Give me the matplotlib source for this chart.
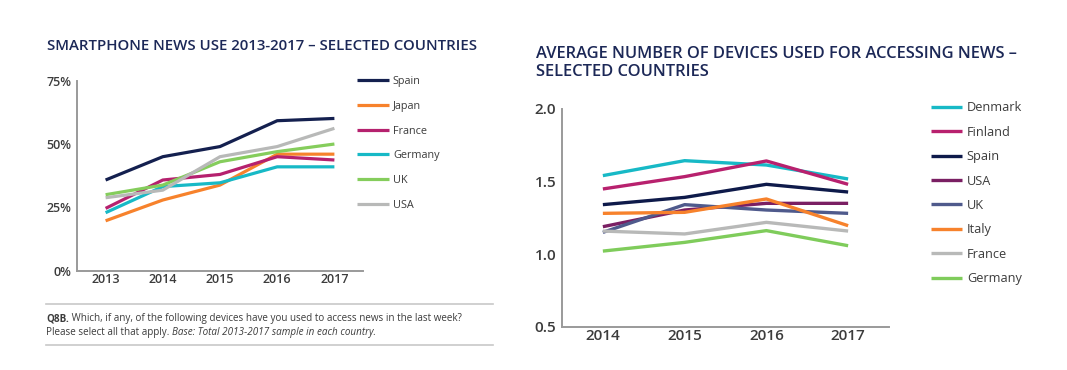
import matplotlib
matplotlib.use("Agg")
import matplotlib.pyplot as plt
from matplotlib.lines import Line2D

plt.rcParams['font.family'] = ['Open Sans', 'DejaVu Sans']

# ---- Left chart data ----
years_left = [2013, 2014, 2015, 2016, 2017]
left_series = ["Spain", "Japan", "France", "Germany", "UK", "USA"]
spain_l = [35.8, 45.0, 49.0, 59.2, 60.1]
japan_l = [19.7, 27.9, 33.8, 46.0, 46.0]
france_l = [24.6, 35.8, 38.0, 45.0, 43.7]
germany_l = [22.9, 33.2, 34.7, 41.0, 41.0]
uk_l = [30.0, 33.8, 43.0, 47.0, 50.0]
usa_l = [28.8, 31.8, 45.0, 49.0, 56.2]
left_values = [spain_l, japan_l, france_l, germany_l, uk_l, usa_l]
left_colors = ["#14204f", "#f7822c", "#b5216e", "#17b9c6", "#85cd5c", "#b8b9b8"]
left_yticks = [0, 25, 50, 75]
left_yticklabels = ["0%", "25%", "50%", "75%"]

# ---- Right chart data ----
years_right = [2014, 2015, 2016, 2017]
right_series = ["Denmark", "Finland", "Spain", "USA", "UK", "Italy", "France", "Germany"]
denmark_r = [1.541, 1.644, 1.614, 1.518]
finland_r = [1.449, 1.534, 1.642, 1.481]
spain_r = [1.341, 1.391, 1.481, 1.428]
usa_r = [1.189, 1.304, 1.350, 1.350]
uk_r = [1.150, 1.341, 1.304, 1.281]
italy_r = [1.281, 1.288, 1.380, 1.196]
france_r = [1.159, 1.139, 1.219, 1.159]
germany_r = [1.021, 1.081, 1.162, 1.058]
right_values = [denmark_r, finland_r, spain_r, usa_r, uk_r, italy_r, france_r, germany_r]
right_colors = ["#17b9c6", "#b8216e", "#0e1a4a", "#7a1f63", "#4f5a8c", "#f7822c", "#b8b9b8", "#7fcc5b"]
right_yticks = [0.5, 1.0, 1.5, 2.0]
right_yticklabels = ["0.5", "1.0", "1.5", "2.0"]

W, H = 1067, 370
fig = plt.figure(figsize=(W / 100, H / 100), dpi=100)
fig.patch.set_facecolor("white")

title_color = "#1c2857"
text_color = "#3c3c3c"
axis_color = "#9a9a9a"


def fx(px):
    return px / W


def fy(py):
    return 1 - py / H


def style_axes(ax, size, xpad):
    for s in ["top", "right"]:
        ax.spines[s].set_visible(False)
    for s in ["left", "bottom"]:
        ax.spines[s].set_color(axis_color)
        ax.spines[s].set_linewidth(1.4)
    ax.tick_params(axis="both", length=0, colors=text_color, labelsize=size)
    ax.tick_params(axis="y", pad=4)
    ax.tick_params(axis="x", pad=xpad)
    for lab in ax.get_xticklabels() + ax.get_yticklabels():
        lab.set_fontweight("semibold")


# ---------------- Left chart ----------------
axL = fig.add_axes([fx(77), fy(270.7), fx(363 - 77), (270.7 - 80.7) / H])
for name, vals, col in zip(left_series, left_values, left_colors):
    axL.plot(years_left, vals, color=col, lw=2.3, label=name, solid_capstyle="butt")
axL.set_xlim(2012.5, 2017.5)
axL.set_ylim(0, 75)
axL.set_xticks(years_left)
axL.set_yticks(left_yticks)
axL.set_yticklabels(left_yticklabels)
style_axes(axL, 9, 2)

legL = axL.legend(loc="upper left", bbox_to_anchor=(fx(357), fy(76)),
                  bbox_transform=fig.transFigure, frameon=False, fontsize=7.8,
                  handlelength=2.95, handletextpad=0.37, labelspacing=1.27,
                  borderpad=0, borderaxespad=0)
for t in legL.get_texts():
    t.set_color(text_color)

fig.text(fx(47), fy(45.5), "SMARTPHONE NEWS USE 2013-2017 – SELECTED COUNTRIES",
         fontsize=10.85, color=title_color, fontweight="semibold", va="center", ha="left")

# Footnote
fig.add_artist(Line2D([fx(46), fx(493)], [fy(304), fy(304)], color="#c8c8c8", lw=1.2))
fig.add_artist(Line2D([fx(46), fx(493)], [fy(345), fy(345)], color="#c8c8c8", lw=1.2))

renderer = fig.canvas.get_renderer()


def text_run(x_px, y_px, parts, size=7.15):
    x = x_px
    for s, kw in parts:
        t = fig.text(fx(x), fy(y_px), s, fontsize=size, color=text_color,
                     va="center", ha="left", **kw)
        x += t.get_window_extent(renderer=renderer).width


text_run(46, 319, [("Q8B.", {"fontweight": "bold"}),
                   (" Which, if any, of the following devices have you used to access news in the last week?", {})])
text_run(46, 332, [("Please select all that apply. ", {}),
                   ("Base: Total 2013-2017 sample in each country.", {"style": "italic"})])

# ---------------- Right chart ----------------
axR = fig.add_axes([fx(562), fy(326.7), fx(889 - 562), (326.7 - 109) / H])
for name, vals, col in zip(right_series, right_values, right_colors):
    axR.plot(years_right, vals, color=col, lw=2.4, label=name, solid_capstyle="butt")
axR.set_xlim(2013.5, 2017.5)
axR.set_ylim(0.5, 2.0)
axR.set_xticks(years_right)
axR.set_yticks(right_yticks)
axR.set_yticklabels(right_yticklabels)
style_axes(axR, 11, 2)

legR = axR.legend(loc="upper left", bbox_to_anchor=(fx(931), fy(101.2)),
                  bbox_transform=fig.transFigure, frameon=False, fontsize=9.2,
                  handlelength=2.4, handletextpad=0.4, labelspacing=0.895,
                  borderpad=0, borderaxespad=0)
for t in legR.get_texts():
    t.set_color(text_color)

fig.text(fx(536), fy(53.5), "AVERAGE NUMBER OF DEVICES USED FOR ACCESSING NEWS –",
         fontsize=11.9, color=title_color, fontweight="semibold", va="center", ha="left")
fig.text(fx(536), fy(71.5), "SELECTED COUNTRIES",
         fontsize=11.9, color=title_color, fontweight="semibold", va="center", ha="left")

fig.savefig("out.png", dpi=100, facecolor="white")
